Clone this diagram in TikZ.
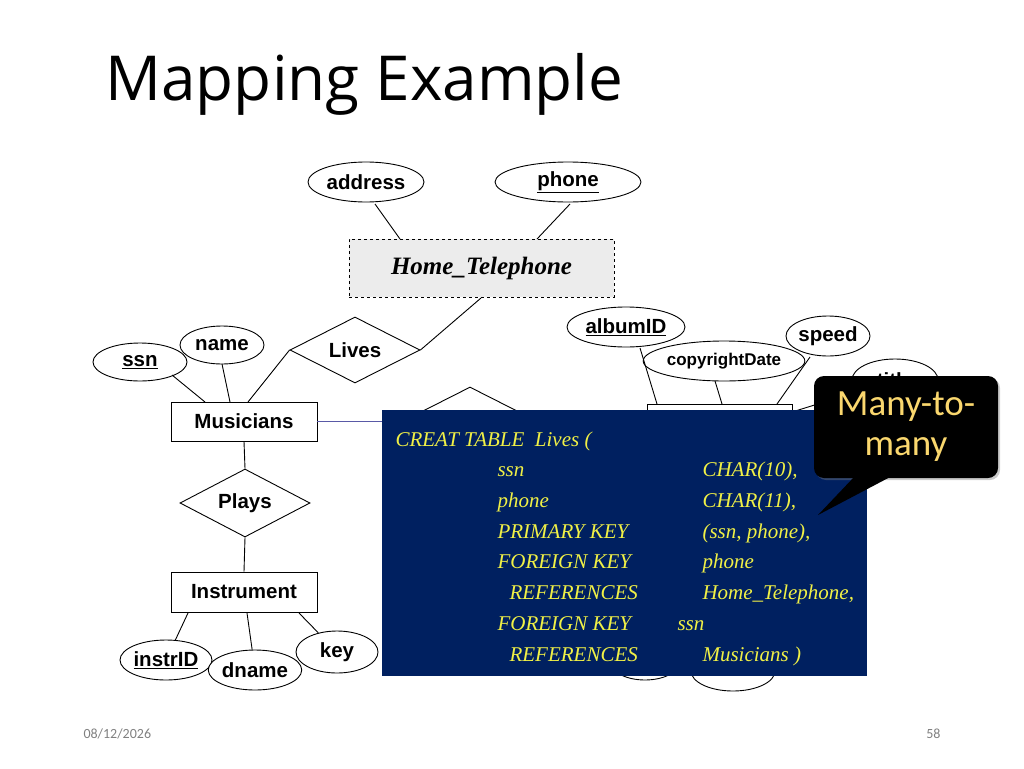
\documentclass[tikz,border=0pt]{standalone}
\usepackage{fontspec}
\setmainfont{Liberation Sans}
\newfontfamily\titlefont{Open Sans}
\newfontfamily\calfont{Carlito}
\newfontfamily\serifit{Liberation Serif}
\usetikzlibrary{shapes.geometric,shadows}
\definecolor{boxblue}{RGB}{0,32,96}
\definecolor{sqlyellow}{RGB}{240,240,70}
\definecolor{callyellow}{RGB}{250,215,110}
\begin{document}
\begin{tikzpicture}[x=1pt,y=-1pt,
  lab/.style={font=\fontsize{20.5}{22}\selectfont\bfseries},
  attr/.style={draw,ellipse,line width=0.9pt,fill=white,inner sep=0pt,lab},
  ent/.style={draw,rectangle,line width=0.9pt,fill=white,inner sep=0pt,lab},
  rel/.style={draw,diamond,aspect=2,line width=0.9pt,fill=white,inner sep=0pt,lab},
  con/.style={line width=0.9pt},
  sql/.style={anchor=base west,text=sqlyellow,font=\serifit\itshape\fontsize{21}{23}\selectfont}]
\useasboundingbox (0,0) rectangle (1024,768);
\node[anchor=base west,font=\titlefont\fontsize{62}{64}\selectfont] (t) at (102,100) {Mapping Example};
% top
\node[attr,minimum width=116,minimum height=40] (addr) at (366,182) {address};
\node[attr,minimum width=146,minimum height=40] (phone) at (568,182) {\underline{phone}};
\node[draw,dashed,fill=gray!15,minimum width=265,minimum height=58,font=\serifit\itshape\bfseries\fontsize{25}{27}\selectfont] (ht) at (481.5,268) {Home\_Telephone};
\draw[con] (375,204) -- (400,239);
\draw[con] (570,204) -- (537,239);
\node[rel,minimum width=130,minimum height=66] (lives) at (355,350) {Lives};
\draw[con] (481,298) -- (lives.east);
% musicians
\node[ent,minimum width=146,minimum height=39] (mus) at (244,421.5) {Musicians};
\node[attr,minimum width=84,minimum height=38] (name) at (222,345) {name};
\node[attr,minimum width=94,minimum height=38] (ssn) at (140,362) {\underline{ssn}};
\draw[con] (172,375) -- (205,402);
\draw[con] (222,364) -- (230,402);
\draw[con] (248,402) -- (lives.west);
\draw[line width=0.9pt,color=blue!30!gray] (mus.east) -- (400,421.5);
% hidden relationship
\node[rel,minimum width=130,minimum height=66] (rec) at (470,420) {};
% plays
\node[rel,minimum width=130,minimum height=68] (plays) at (245,503) {Plays};
\node[ent,minimum width=146,minimum height=40] (inst) at (244,592) {Instrument};
\draw[con] (mus.south) -- (plays.north);
\draw[con] (plays.south) -- (inst.north);
\node[attr,minimum width=92,minimum height=40] (iid) at (166,660) {\underline{instrID}};
\node[attr,minimum width=84,minimum height=40] (dn) at (255,670) {dname};
\node[attr,minimum width=82,minimum height=42] (key) at (337,652) {key};
\draw[con] (188,613) -- (iid);
\draw[con] (247,613) -- (dn);
\draw[con] (299,613) -- (key);
% album
\node[ent,minimum width=145,minimum height=40] (alb) at (719.5,424) {};
\node[attr,minimum width=118,minimum height=40] (aid) at (626,327) {\underline{albumID}};
\node[attr,minimum width=144,minimum height=40,font=\fontsize{17}{18}\selectfont\bfseries] (cd) at (724,361) {copyrightDate};
\node[attr,minimum width=84,minimum height=40] (sp) at (828,336) {speed};
\node[attr,minimum width=86,minimum height=42] (ti) at (895,380) {title};
\draw[con] (640,348) -- (657,404);
\draw[con] (715,381) -- (722,404);
\draw[con] (810,357) -- (777,404);
\draw[con] (792,412) -- (ti);
\node[attr,minimum width=72,minimum height=40] (b1) at (645,660) {};
\node[attr,minimum width=84,minimum height=40] (b2) at (733,671) {};
% SQL box
\fill[boxblue] (382,410) rectangle (867,676);
\node[sql] (s1) at (392,446) {CREAT TABLE\ \ Lives (};
\node[sql] (s2) at (494,476) {ssn};
\node[sql] (s2b) at (699,476) {CHAR(10),};
\node[sql] (s3) at (494,507) {phone};
\node[sql] (s3b) at (699,507) {CHAR(11),};
\node[sql] (s4) at (494,538) {PRIMARY KEY};
\node[sql] (s4b) at (699,538) {(ssn, phone),};
\node[sql] (s5) at (494,568) {FOREIGN KEY};
\node[sql] (s5b) at (699,568) {phone};
\node[sql] (s6) at (506,599) {REFERENCES};
\node[sql] (s6b) at (699,599) {Home\_Telephone,};
\node[sql] (s7) at (494,630) {FOREIGN KEY};
\node[sql] (s7b) at (674,630) {ssn};
\node[sql] (s8) at (506,661) {REFERENCES};
\node[sql] (s8b) at (699,661) {Musicians )};
% callout
\fill[black,drop shadow={opacity=0.4,shadow xshift=2pt,shadow yshift=-2pt}] [rounded corners=10] (814,376) rectangle (998,478);
\fill[black] (855,476) -- (818,515) -- (892,476) -- cycle;
\node[align=center,text=callyellow,font=\calfont\fontsize{37}{40}\selectfont] (cl) at (906,427) {Many-to-\\many};
% footer
\node[anchor=base west,text=gray,font=\calfont\fontsize{14}{16}\selectfont] (d) at (80,738) {08/12/2026};
\node[anchor=base east,text=gray,font=\calfont\fontsize{14}{16}\selectfont] (p) at (944,738) {58};
\end{tikzpicture}
\end{document}
